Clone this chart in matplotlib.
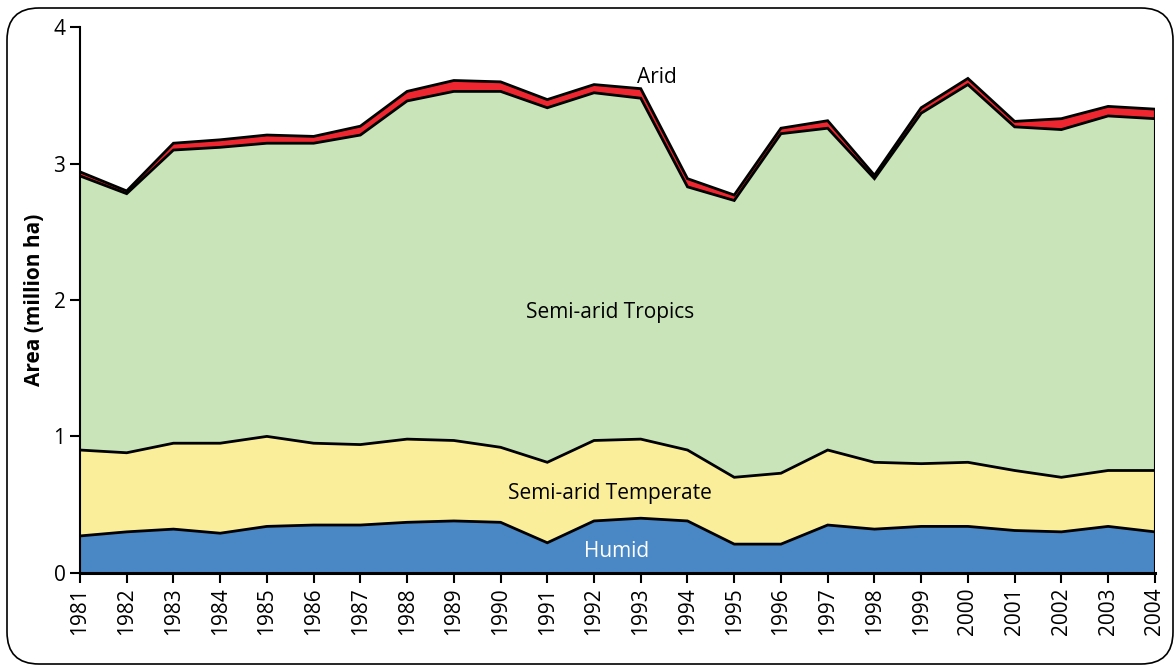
import matplotlib
matplotlib.use("Agg")
import matplotlib.pyplot as plt
import matplotlib.patches as mpatches
from matplotlib.transforms import IdentityTransform
import numpy as np

years = list(range(1981, 2005))

# area in million ha, by zone (stacked bottom to top)
humid = [0.27, 0.30, 0.32, 0.29, 0.34, 0.35, 0.35, 0.37, 0.38, 0.37, 0.22, 0.38,
         0.40, 0.38, 0.21, 0.21, 0.35, 0.32, 0.34, 0.34, 0.31, 0.30, 0.34, 0.30]
semi_arid_temperate = [0.63, 0.58, 0.63, 0.66, 0.66, 0.60, 0.59, 0.61, 0.59, 0.55, 0.59, 0.59,
                       0.58, 0.52, 0.49, 0.52, 0.55, 0.49, 0.46, 0.47, 0.44, 0.40, 0.41, 0.45]
semi_arid_tropics = [2.01, 1.90, 2.15, 2.17, 2.15, 2.20, 2.27, 2.48, 2.56, 2.61, 2.60, 2.55,
                     2.50, 1.93, 2.03, 2.49, 2.36, 2.08, 2.57, 2.77, 2.52, 2.55, 2.60, 2.58]
arid = [0.03, 0.02, 0.05, 0.055, 0.06, 0.05, 0.065, 0.07, 0.08, 0.07, 0.06, 0.06,
        0.07, 0.06, 0.04, 0.04, 0.055, 0.025, 0.04, 0.045, 0.04, 0.08, 0.07, 0.07]

colors = ["#4a87c5", "#fbee9b", "#c8e4b8", "#ee2630"]

plt.rcParams['font.family'] = ['Open Sans', 'DejaVu Sans']

fig = plt.figure(figsize=(11.76, 6.66), dpi=100)
ax = fig.add_axes([0.068, 0.140, 0.914, 0.819])

layers = [humid, semi_arid_temperate, semi_arid_tropics, arid]
ax.stackplot(years, layers, colors=colors, linewidth=0)
tops = np.cumsum(np.array(layers), axis=0)
for t in tops:
    ax.plot(years, t, color="black", lw=2.0, solid_joinstyle="miter")
ax.vlines(years[-1], 0, tops[-1][-1], color="black", lw=1.5)

ax.set_xlim(1981, 2004)
ax.set_ylim(0, 4)
ax.set_xticks(years)
ax.set_xticklabels([str(y) for y in years], rotation=90, fontsize=15)
ax.set_yticks([0, 1, 2, 3, 4])
ax.tick_params(axis='y', labelsize=15, length=7, width=1.5)
ax.tick_params(axis='x', length=7, width=1.5)
for s in ["top", "right"]:
    ax.spines[s].set_visible(False)
ax.spines["left"].set_linewidth(1.5)
ax.spines["bottom"].set_linewidth(2.2)
ax.spines["bottom"].set_zorder(5)

ax.set_ylabel("Area (million ha)", fontsize=15, fontweight="bold", labelpad=6)

ax.text(1993.35, 3.63, "Arid", fontsize=15, ha="center", va="center")
ax.text(1992.34, 1.91, "Semi-arid Tropics", fontsize=15, ha="center", va="center")
ax.text(1992.34, 0.583, "Semi-arid Temperate", fontsize=15, ha="center", va="center")
ax.text(1992.49, 0.158, "Humid", fontsize=15, ha="center", va="center", color="white")

border = mpatches.FancyBboxPatch((7, 2), 1166, 656,
                                 boxstyle="round,pad=0,rounding_size=32",
                                 transform=IdentityTransform(), fill=False,
                                 edgecolor="black", lw=1.2)
fig.patches.append(border)

fig.savefig("out.png", dpi=100)
